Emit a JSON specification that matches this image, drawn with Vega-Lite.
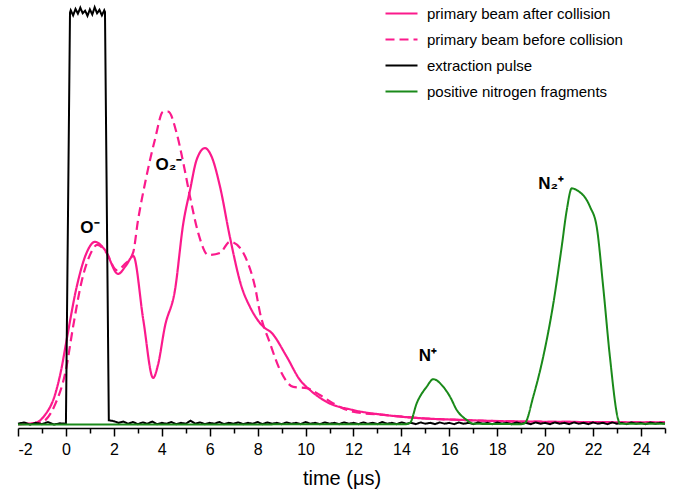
{
  "$schema": "https://vega.github.io/schema/vega-lite/v6.json",
  "width": 647,
  "height": 428,
  "autosize": {"type": "none"},
  "padding": {"left": 18, "top": 0, "right": 14, "bottom": 72},
  "background": "white",
  "config": {
    "view": {"stroke": null},
    "font": "Liberation Sans",
    "axis": {"grid": false, "domainColor": "black", "tickColor": "black", "labelColor": "black", "titleColor": "black"},
    "legend": {
      "orient": "none", "legendX": 366, "legendY": -4,
      "title": null, "symbolType": "stroke", "symbolSize": 1024, "symbolStrokeWidth": 2.2,
      "labelFontSize": 15, "labelColor": "black", "labelOffset": 8, "rowPadding": -17, "labelLimit": 0, "labelFont": "Liberation Sans"
    }
  },
  "datasets": {
    "pink": [
      {"t": -2, "v": 0.9, "s": "primary beam after collision"},
      {"t": -1.29, "v": 1.2, "s": "primary beam after collision"},
      {"t": -0.88, "v": 3.0, "s": "primary beam after collision"},
      {"t": -0.46, "v": 7.7, "s": "primary beam after collision"},
      {"t": -0.2, "v": 13.5, "s": "primary beam after collision"},
      {"t": 0.03, "v": 20.6, "s": "primary beam after collision"},
      {"t": 0.45, "v": 33.0, "s": "primary beam after collision"},
      {"t": 0.86, "v": 40.9, "s": "primary beam after collision"},
      {"t": 1.21, "v": 43.5, "s": "primary beam after collision"},
      {"t": 1.63, "v": 41.6, "s": "primary beam after collision"},
      {"t": 2.18, "v": 36.0, "s": "primary beam after collision"},
      {"t": 2.5, "v": 37.9, "s": "primary beam after collision"},
      {"t": 2.81, "v": 40.2, "s": "primary beam after collision"},
      {"t": 3.23, "v": 25.2, "s": "primary beam after collision"},
      {"t": 3.64, "v": 11.7, "s": "primary beam after collision"},
      {"t": 3.84, "v": 14.7, "s": "primary beam after collision"},
      {"t": 4.13, "v": 23.7, "s": "primary beam after collision"},
      {"t": 4.55, "v": 32.2, "s": "primary beam after collision"},
      {"t": 4.9, "v": 47.9, "s": "primary beam after collision"},
      {"t": 5.18, "v": 55.6, "s": "primary beam after collision"},
      {"t": 5.45, "v": 62.6, "s": "primary beam after collision"},
      {"t": 5.8, "v": 65.4, "s": "primary beam after collision"},
      {"t": 6.08, "v": 63.4, "s": "primary beam after collision"},
      {"t": 6.43, "v": 56.4, "s": "primary beam after collision"},
      {"t": 6.84, "v": 44.7, "s": "primary beam after collision"},
      {"t": 7.33, "v": 33.0, "s": "primary beam after collision"},
      {"t": 7.68, "v": 28.3, "s": "primary beam after collision"},
      {"t": 8.23, "v": 23.7, "s": "primary beam after collision"},
      {"t": 8.59, "v": 22.2, "s": "primary beam after collision"},
      {"t": 9.21, "v": 16.7, "s": "primary beam after collision"},
      {"t": 9.77, "v": 11.2, "s": "primary beam after collision"},
      {"t": 10.18, "v": 8.9, "s": "primary beam after collision"},
      {"t": 10.88, "v": 6.1, "s": "primary beam after collision"},
      {"t": 11.98, "v": 4.2, "s": "primary beam after collision"},
      {"t": 13.38, "v": 3.0, "s": "primary beam after collision"},
      {"t": 14.77, "v": 2.3, "s": "primary beam after collision"},
      {"t": 16.44, "v": 1.9, "s": "primary beam after collision"},
      {"t": 18.1, "v": 1.6, "s": "primary beam after collision"},
      {"t": 21.45, "v": 1.4, "s": "primary beam after collision"},
      {"t": 25, "v": 1.3, "s": "primary beam after collision"},
      {"t": -2, "v": 0.9, "s": "primary beam before collision"},
      {"t": -1.09, "v": 1.2, "s": "primary beam before collision"},
      {"t": -0.46, "v": 5.4, "s": "primary beam before collision"},
      {"t": 0, "v": 13.6, "s": "primary beam before collision"},
      {"t": 0.3, "v": 23.7, "s": "primary beam before collision"},
      {"t": 0.67, "v": 34.6, "s": "primary beam before collision"},
      {"t": 1.0, "v": 40.4, "s": "primary beam before collision"},
      {"t": 1.31, "v": 42.8, "s": "primary beam before collision"},
      {"t": 1.67, "v": 41.1, "s": "primary beam before collision"},
      {"t": 2.12, "v": 36.9, "s": "primary beam before collision"},
      {"t": 2.46, "v": 38.3, "s": "primary beam before collision"},
      {"t": 2.8, "v": 40.9, "s": "primary beam before collision"},
      {"t": 3.01, "v": 48.6, "s": "primary beam before collision"},
      {"t": 3.35, "v": 58.5, "s": "primary beam before collision"},
      {"t": 3.71, "v": 67.3, "s": "primary beam before collision"},
      {"t": 4.06, "v": 73.9, "s": "primary beam before collision"},
      {"t": 4.27, "v": 73.9, "s": "primary beam before collision"},
      {"t": 4.62, "v": 68.9, "s": "primary beam before collision"},
      {"t": 4.9, "v": 61.9, "s": "primary beam before collision"},
      {"t": 5.18, "v": 54.0, "s": "primary beam before collision"},
      {"t": 5.52, "v": 45.6, "s": "primary beam before collision"},
      {"t": 5.94, "v": 40.4, "s": "primary beam before collision"},
      {"t": 6.43, "v": 40.9, "s": "primary beam before collision"},
      {"t": 6.84, "v": 43.5, "s": "primary beam before collision"},
      {"t": 7.26, "v": 42.1, "s": "primary beam before collision"},
      {"t": 7.54, "v": 39.3, "s": "primary beam before collision"},
      {"t": 7.89, "v": 33.0, "s": "primary beam before collision"},
      {"t": 8.1, "v": 26.9, "s": "primary beam before collision"},
      {"t": 8.51, "v": 19.9, "s": "primary beam before collision"},
      {"t": 8.93, "v": 13.6, "s": "primary beam before collision"},
      {"t": 9.49, "v": 9.6, "s": "primary beam before collision"},
      {"t": 10.05, "v": 9.3, "s": "primary beam before collision"},
      {"t": 10.6, "v": 7.7, "s": "primary beam before collision"},
      {"t": 11.14, "v": 5.8, "s": "primary beam before collision"},
      {"t": 11.98, "v": 3.8, "s": "primary beam before collision"},
      {"t": 13.38, "v": 3.0, "s": "primary beam before collision"},
      {"t": 14.77, "v": 2.3, "s": "primary beam before collision"},
      {"t": 16.44, "v": 1.9, "s": "primary beam before collision"},
      {"t": 18.1, "v": 1.6, "s": "primary beam before collision"},
      {"t": 21.45, "v": 1.4, "s": "primary beam before collision"},
      {"t": 25, "v": 1.3, "s": "primary beam before collision"}
    ],
    "pulse": [
      {"t": -2, "v": 1.0}, {"t": -1.75, "v": 1.3}, {"t": -1.5, "v": 0.8}, {"t": -1.25, "v": 1.2}, {"t": -1, "v": 0.9},
      {"t": -0.75, "v": 1.4}, {"t": -0.5, "v": 0.8}, {"t": -0.25, "v": 1.1}, {"t": 0, "v": 1.0},
      {"t": 0.17, "v": 97.0}, {"t": 0.2, "v": 97.6}, {"t": 0.3, "v": 96.4}, {"t": 0.4, "v": 97.9}, {"t": 0.5, "v": 96.8},
      {"t": 0.6, "v": 98.2}, {"t": 0.7, "v": 96.9}, {"t": 0.8, "v": 97.5}, {"t": 0.9, "v": 96.3}, {"t": 1.0, "v": 97.8},
      {"t": 1.1, "v": 96.6}, {"t": 1.2, "v": 98.3}, {"t": 1.3, "v": 96.9}, {"t": 1.4, "v": 97.7}, {"t": 1.5, "v": 96.4},
      {"t": 1.6, "v": 97.6}, {"t": 1.63, "v": 97.2}, {"t": 1.79, "v": 1.8},
      {"t": 2.0, "v": 1.6}, {"t": 2.2, "v": 1.2}, {"t": 2.4, "v": 1.5}, {"t": 2.6, "v": 1.0}, {"t": 2.8, "v": 1.4},
      {"t": 3.0, "v": 0.9}, {"t": 3.2, "v": 1.3}, {"t": 3.4, "v": 1.0}, {"t": 3.6, "v": 1.5}, {"t": 3.8, "v": 0.9},
      {"t": 4.0, "v": 1.2}, {"t": 4.2, "v": 1.0}, {"t": 4.4, "v": 1.4}, {"t": 4.6, "v": 0.9}, {"t": 4.8, "v": 1.2},
      {"t": 5.0, "v": 1.0}, {"t": 5.2, "v": 1.7}, {"t": 5.4, "v": 1.0}, {"t": 5.6, "v": 1.3}, {"t": 5.8, "v": 0.9},
      {"t": 6.0, "v": 1.2}, {"t": 6.2, "v": 1.0}, {"t": 6.4, "v": 1.4}, {"t": 6.6, "v": 0.9}, {"t": 6.8, "v": 1.2},
      {"t": 7.0, "v": 1.0}, {"t": 7.2, "v": 1.3}, {"t": 7.4, "v": 0.9}, {"t": 7.6, "v": 1.2}, {"t": 7.8, "v": 1.0},
      {"t": 8.0, "v": 1.4}, {"t": 8.2, "v": 0.9}, {"t": 8.4, "v": 1.3}, {"t": 8.6, "v": 1.0}, {"t": 8.8, "v": 1.2},
      {"t": 9.0, "v": 0.9}, {"t": 9.2, "v": 1.3}, {"t": 9.4, "v": 1.0}, {"t": 9.6, "v": 1.2}, {"t": 9.8, "v": 0.9},
      {"t": 10.0, "v": 1.4}, {"t": 10.2, "v": 1.0}, {"t": 10.4, "v": 1.2}, {"t": 10.6, "v": 0.9}, {"t": 10.8, "v": 1.3},
      {"t": 11.0, "v": 1.0}, {"t": 11.2, "v": 1.2}, {"t": 11.4, "v": 0.9}, {"t": 11.6, "v": 1.3}, {"t": 11.8, "v": 1.0},
      {"t": 12.0, "v": 1.2}, {"t": 12.2, "v": 0.9}, {"t": 12.4, "v": 1.3}, {"t": 12.6, "v": 1.0}, {"t": 12.8, "v": 1.2},
      {"t": 13.0, "v": 0.9}, {"t": 13.2, "v": 1.4}, {"t": 13.4, "v": 1.0}, {"t": 13.6, "v": 1.2}, {"t": 13.8, "v": 0.9},
      {"t": 14.0, "v": 1.3}, {"t": 14.2, "v": 1.0}, {"t": 14.4, "v": 1.2}, {"t": 14.6, "v": 0.9}, {"t": 14.8, "v": 1.3},
      {"t": 15.0, "v": 1.0}, {"t": 15.2, "v": 1.2}, {"t": 15.4, "v": 0.9}, {"t": 15.6, "v": 1.3}, {"t": 15.8, "v": 1.0},
      {"t": 16.0, "v": 1.2}, {"t": 16.2, "v": 0.9}, {"t": 16.4, "v": 1.3}, {"t": 16.6, "v": 1.0}, {"t": 16.8, "v": 1.2},
      {"t": 17.0, "v": 0.9}, {"t": 17.2, "v": 1.3}, {"t": 17.4, "v": 1.0}, {"t": 17.6, "v": 1.2}, {"t": 17.8, "v": 0.9},
      {"t": 18.0, "v": 1.3}, {"t": 18.2, "v": 1.0}, {"t": 18.4, "v": 1.2}, {"t": 18.6, "v": 0.9}, {"t": 18.8, "v": 1.3},
      {"t": 19.0, "v": 1.0}, {"t": 19.2, "v": 1.2}, {"t": 19.4, "v": 0.9}, {"t": 19.6, "v": 1.3}, {"t": 19.8, "v": 1.0},
      {"t": 20.0, "v": 1.2}, {"t": 20.2, "v": 0.9}, {"t": 20.4, "v": 1.3}, {"t": 20.6, "v": 1.0}, {"t": 20.8, "v": 1.2},
      {"t": 21.0, "v": 0.9}, {"t": 21.2, "v": 1.3}, {"t": 21.4, "v": 1.0}, {"t": 21.6, "v": 1.2}, {"t": 21.8, "v": 0.9},
      {"t": 22.0, "v": 1.3}, {"t": 22.2, "v": 1.0}, {"t": 22.4, "v": 1.2}, {"t": 22.6, "v": 0.9}, {"t": 22.8, "v": 1.3},
      {"t": 23.0, "v": 1.0}, {"t": 23.2, "v": 1.2}, {"t": 23.4, "v": 0.9}, {"t": 23.6, "v": 1.3}, {"t": 23.8, "v": 1.0},
      {"t": 24.0, "v": 1.2}, {"t": 24.2, "v": 0.9}, {"t": 24.4, "v": 1.3}, {"t": 24.6, "v": 1.0}, {"t": 24.8, "v": 1.2},
      {"t": 25.0, "v": 1.0}
    ],
    "green": [
      {"t": -2, "v": 0.8}, {"t": 14.2, "v": 0.9}, {"t": 14.36, "v": 1.2}, {"t": 14.64, "v": 5.8}, {"t": 15.05, "v": 9.6},
      {"t": 15.33, "v": 11.4}, {"t": 15.75, "v": 9.6}, {"t": 16.03, "v": 7.3}, {"t": 16.31, "v": 4.2}, {"t": 16.72, "v": 1.9},
      {"t": 16.99, "v": 1.0}, {"t": 19.0, "v": 0.9}, {"t": 19.16, "v": 1.2}, {"t": 19.5, "v": 7.3}, {"t": 19.92, "v": 16.7},
      {"t": 20.34, "v": 29.1}, {"t": 20.69, "v": 42.4}, {"t": 20.9, "v": 50.9}, {"t": 21.11, "v": 56.0}, {"t": 21.31, "v": 55.6},
      {"t": 21.87, "v": 51.7}, {"t": 22.15, "v": 47.0}, {"t": 22.42, "v": 33.0}, {"t": 22.7, "v": 16.7}, {"t": 23.05, "v": 1.9},
      {"t": 23.12, "v": 1.0}, {"t": 25, "v": 1.0}
    ],
    "labels": [
      {"t": 1.0, "v": 46.7, "label": "O⁻"},
      {"t": 4.3, "v": 61.5, "label": "O₂⁻"},
      {"t": 15.1, "v": 16.8, "label": "N⁺"},
      {"t": 20.25, "v": 57.0, "label": "N₂⁺"}
    ]
  },
  "resolve": {"axis": {"x": "independent"}},
  "layer": [
    {
      "data": {"name": "pink"},
      "mark": {"type": "line", "strokeWidth": 2.2, "interpolate": "monotone"},
      "encoding": {
        "x": {"field": "t", "type": "quantitative", "scale": {"domain": [-2, 25], "nice": false, "zero": false},
          "axis": {"orient": "bottom", "values": [-2, 0, 2, 4, 6, 8, 10, 12, 14, 16, 18, 20, 22, 24], "tickSize": 8, "tickWidth": 1.5, "domainWidth": 1.5,
            "labelExpr": "'' + datum.value",
            "labelFontSize": 16, "labelPadding": 5, "title": "time (μs)", "titleFontSize": 20, "titleFontWeight": "normal", "titlePadding": 11}},
        "y": {"field": "v", "type": "quantitative", "scale": {"domain": [0, 100], "nice": false}, "axis": null},
        "color": {"field": "s", "type": "nominal", "scale": {
          "domain": ["primary beam after collision", "primary beam before collision", "extraction pulse", "positive nitrogen fragments"],
          "range": ["#fb1a8c", "#fb1a8c", "#000000", "#1a8a1a"]}},
        "strokeDash": {"field": "s", "type": "nominal", "scale": {
          "domain": ["primary beam after collision", "primary beam before collision", "extraction pulse", "positive nitrogen fragments"],
          "range": [[1, 0], [9, 5], [1, 0], [1, 0]]}}
      }
    },
    {
      "data": {"name": "pulse"},
      "transform": [{"calculate": "'extraction pulse'", "as": "s"}],
      "mark": {"type": "line", "strokeWidth": 2},
      "encoding": {
        "x": {"field": "t", "type": "quantitative", "scale": {"domain": [-2, 25], "nice": false, "zero": false},
          "axis": {"orient": "bottom", "values": [-1, 1, 3, 5, 7, 9, 11, 13, 15, 17, 19, 21, 23, 25], "tickSize": 5, "tickWidth": 1.5, "labels": false, "domain": false, "title": null}},
        "y": {"field": "v", "type": "quantitative"},
        "color": {"field": "s", "type": "nominal"},
        "strokeDash": {"field": "s", "type": "nominal"}
      }
    },
    {
      "data": {"name": "green"},
      "transform": [{"calculate": "'positive nitrogen fragments'", "as": "s"}],
      "mark": {"type": "line", "strokeWidth": 2, "interpolate": "monotone"},
      "encoding": {
        "x": {"field": "t", "type": "quantitative", "axis": null},
        "y": {"field": "v", "type": "quantitative"},
        "color": {"field": "s", "type": "nominal"},
        "strokeDash": {"field": "s", "type": "nominal"}
      }
    },
    {
      "data": {"name": "labels"},
      "mark": {"type": "text", "fontSize": 17, "fontWeight": "bold", "font": "Liberation Sans", "color": "black"},
      "encoding": {
        "x": {"field": "t", "type": "quantitative", "axis": null},
        "y": {"field": "v", "type": "quantitative"},
        "text": {"field": "label"}
      }
    }
  ]
}
